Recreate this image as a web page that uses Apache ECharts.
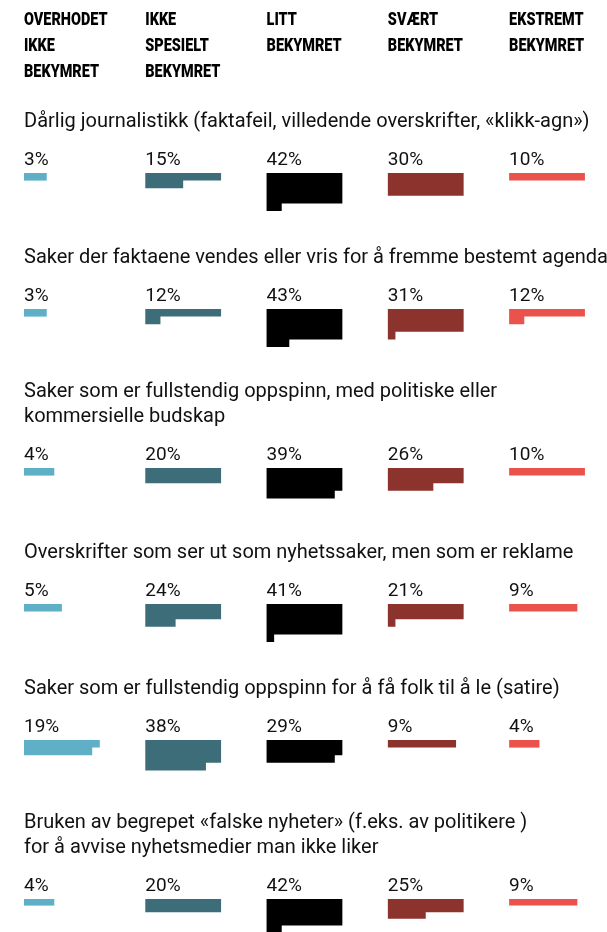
<!DOCTYPE html>
<html>
<head>
<meta charset="utf-8">
<script src="https://cdn.jsdelivr.net/npm/echarts@6/dist/echarts.min.js"></script>
<style>
  html, body { margin: 0; padding: 0; background: #fff; }
  #chart { width: 607px; height: 932px; }
</style>
</head>
<body>
<div id="chart"></div>
<script>
// Answer levels (column headers)
const levels = [
  'OVERHODET\nIKKE\nBEKYMRET',
  'IKKE\nSPESIELT\nBEKYMRET',
  'LITT\nBEKYMRET',
  'SVÆRT\nBEKYMRET',
  'EKSTREMT\nBEKYMRET'
];

// Questions (one panel each)
const questions = [
  'Dårlig journalistikk (faktafeil, villedende overskrifter, «klikk-agn»)',
  'Saker der faktaene vendes eller vris for å fremme bestemt agenda',
  'Saker som er fullstendig oppspinn, med politiske eller\nkommersielle budskap',
  'Overskrifter som ser ut som nyhetssaker, men som er reklame',
  'Saker som er fullstendig oppspinn for å få folk til å le (satire)',
  'Bruken av begrepet «falske nyheter» (f.eks. av politikere )\nfor å avvise nyhetsmedier man ikke liker'
];

// Share of respondents (%) per level, one value per question
const overhodetIkke = [3, 3, 4, 5, 19, 4];
const ikkeSpesielt  = [15, 12, 20, 24, 38, 20];
const litt          = [42, 43, 39, 41, 29, 42];
const svaert        = [30, 31, 26, 21, 9, 25];
const ekstremt      = [10, 12, 10, 9, 4, 9];

const seriesByLevel = [overhodetIkke, ikkeSpesielt, litt, svaert, ekstremt];
const levelColors = ['#5fafc7', '#3d6d79', '#000000', '#8c332d', '#ea524b'];

// Layout
const LEFT = 24;
const ROW_UNITS = 10;          // percent per row
const COL_STEP = 16;           // x-units between column starts
const X_MAX = COL_STEP * 4 + ROW_UNITS;
const UNIT_PX = 7.58;
const ROWS = 5;
const ROW_PX = 7.6;
const blockTops = [173, 309, 468, 604, 740, 899];

const textFont = 'Roboto, "Open Sans", sans-serif';

const chart = echarts.init(document.getElementById('chart'), null, { renderer: 'canvas' });

const grids = [], xAxes = [], yAxes = [], series = [];
questions.forEach((q, i) => {
  grids.push({ left: LEFT, top: blockTops[i], width: X_MAX * UNIT_PX, height: ROWS * ROW_PX, containLabel: false });
  xAxes.push({ gridIndex: i, type: 'value', min: 0, max: X_MAX, show: false });
  yAxes.push({ gridIndex: i, type: 'value', min: 0, max: ROWS, inverse: true, show: false });
  series.push({
    type: 'custom',
    xAxisIndex: i,
    yAxisIndex: i,
    silent: true,
    clip: false,
    data: seriesByLevel.map((arr, c) => [c, arr[i]]),
    renderItem: function (params, api) {
      const col = api.value(0);
      const v = api.value(1);
      const full = Math.floor(v / ROW_UNITS);
      const rem = v - full * ROW_UNITS;
      const x0 = col * COL_STEP;
      const fill = levelColors[col];
      // outline of the block: full rows of 10 units, then a partial row
      let pts;
      if (full === 0) {
        pts = [[x0, 0], [x0 + rem, 0], [x0 + rem, 1], [x0, 1]];
      } else if (rem === 0) {
        pts = [[x0, 0], [x0 + ROW_UNITS, 0], [x0 + ROW_UNITS, full], [x0, full]];
      } else {
        pts = [[x0, 0], [x0 + ROW_UNITS, 0], [x0 + ROW_UNITS, full],
               [x0 + rem, full], [x0 + rem, full + 1], [x0, full + 1]];
      }
      const children = [{
        type: 'polygon',
        shape: { points: pts.map(p => api.coord(p)) },
        style: { fill: fill }
      }];
      const t = api.coord([x0, 0]);
      children.push({
        type: 'text',
        x: t[0],
        y: t[1] - 3,
        style: { text: v + '%', font: '19px ' + textFont, fill: '#111', align: 'left', verticalAlign: 'bottom' }
      });
      return { type: 'group', children: children };
    }
  });
});

const graphics = [];
// column headers
levels.forEach((lab, c) => {
  graphics.push({
    type: 'text',
    x: LEFT + c * COL_STEP * UNIT_PX,
    y: 7,
    scaleX: 0.76,
    style: { text: lab, font: '900 19px ' + textFont, fill: '#000', lineHeight: 26 }
  });
});
// panel titles
questions.forEach((q, i) => {
  const lines = q.split('\n').length;
  graphics.push({
    type: 'text',
    x: LEFT,
    y: blockTops[i] - 64 - (lines - 1) * 25,
    style: { text: q, font: '20px ' + textFont, fill: '#111', lineHeight: 25 }
  });
});

chart.setOption({
  animation: false,
  backgroundColor: '#fff',
  grid: grids,
  xAxis: xAxes,
  yAxis: yAxes,
  series: series,
  graphic: graphics
});
</script>
</body>
</html>
